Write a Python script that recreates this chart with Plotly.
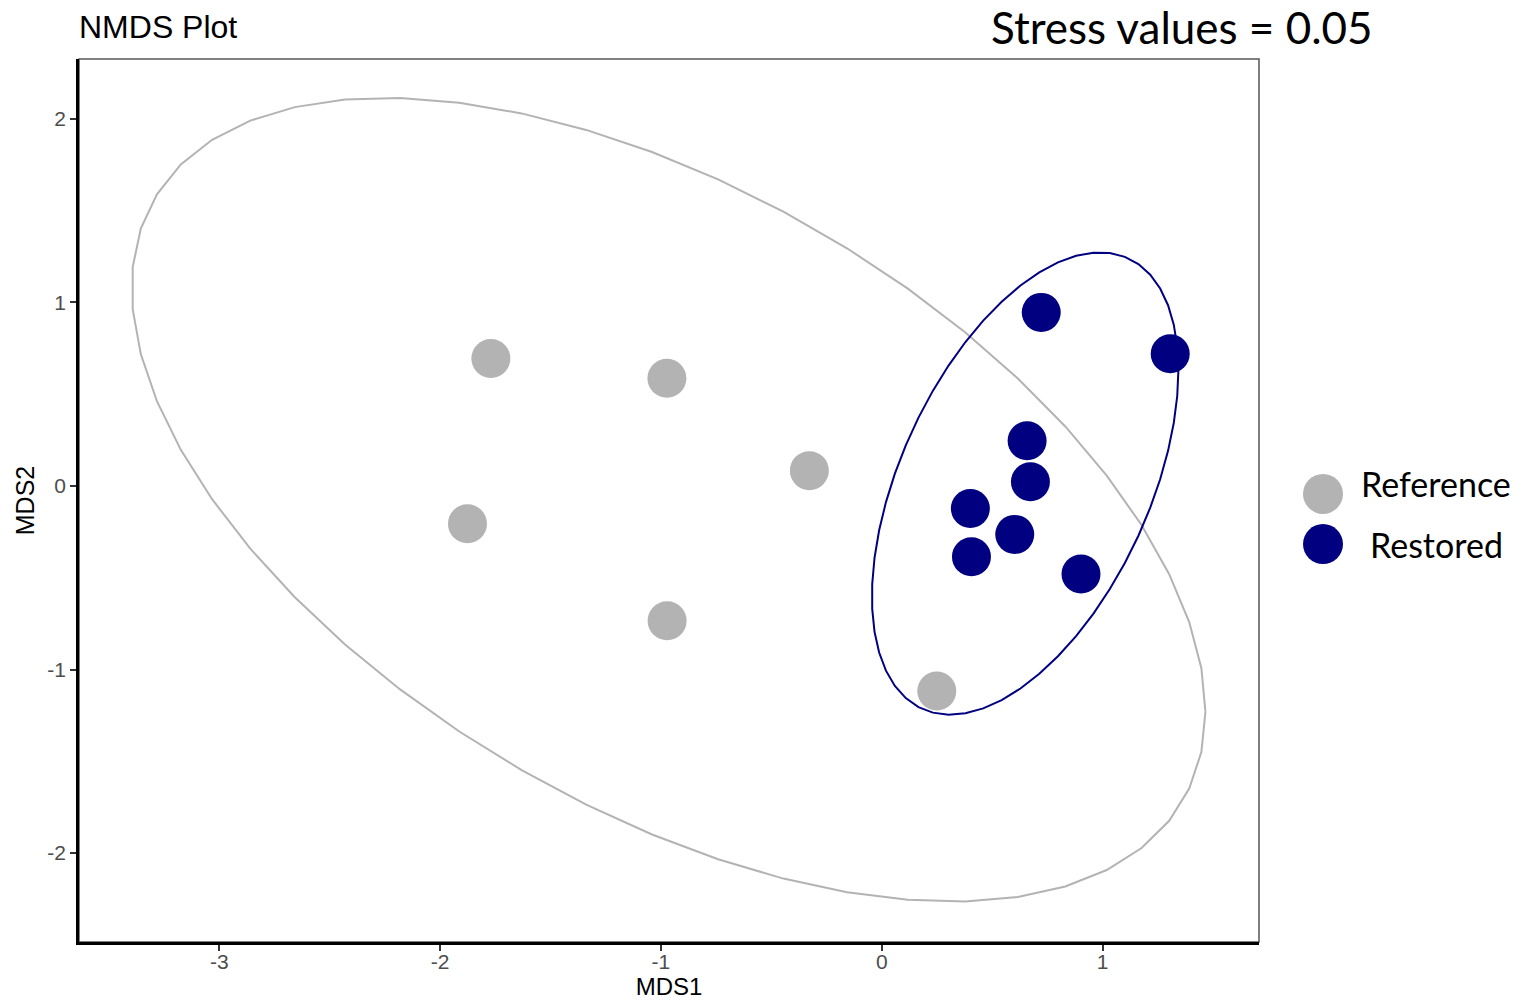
import numpy as np
import plotly.graph_objects as go

# ---- data ----
ref_x = [-1.770, -0.973, -0.328, -1.876, -0.972, 0.249]
ref_y = [0.694, 0.586, 0.083, -0.206, -0.734, -1.117]
res_x = [0.722, 1.306, 0.658, 0.673, 0.401, 0.602, 0.406, 0.902]
res_y = [0.945, 0.720, 0.246, 0.023, -0.123, -0.264, -0.386, -0.480]
groups = ["Reference", "Restored"]
colors = {"Reference": "#B3B3B3", "Restored": "#000080"}
x_ticks = [-3, -2, -1, 0, 1]
y_ticks = [-2, -1, 0, 1, 2]
stress_text = "Stress values = 0.05"


def cov_trob(x, nu=5, maxit=25, tol=0.01):
    x = np.asarray(x, float)
    n, p = x.shape
    wt = np.ones(n)
    loc = x.mean(axis=0)
    w = np.sqrt(wt)
    X = x - loc
    for _ in range(maxit):
        w0 = w.copy()
        X = x - loc
        A = np.sqrt(w / w.sum())[:, None] * X
        _, d, vt = np.linalg.svd(A, full_matrices=False)
        wX = X @ vt.T @ np.diag(1.0 / d)
        Q = (wX ** 2).sum(axis=1)
        w = wt * (nu + p) / (nu + Q)
        loc = (w[:, None] * x).sum(axis=0) / w.sum()
        if np.all(np.abs(w - w0) < tol):
            break
    cov = (np.sqrt(w)[:, None] * X).T @ (np.sqrt(w)[:, None] * X) / wt.sum()
    return loc, cov


def stat_ellipse(xs, ys, level=0.95, segments=51):
    pts = np.column_stack([xs, ys])
    n = len(xs)
    dfn, dfd = 2, n - 1
    center, shape = cov_trob(pts)
    R = np.linalg.cholesky(shape).T
    # F quantile for dfn = 2 (closed form)
    qf = dfd / 2.0 * ((1 - level) ** (-2.0 / dfd) - 1)
    radius = np.sqrt(dfn * qf)
    ang = np.arange(segments + 1) * 2 * np.pi / segments
    circ = np.column_stack([np.cos(ang), np.sin(ang)])
    e = center + radius * (circ @ R)
    return e[:, 0], e[:, 1]


fig = go.Figure()
data = {"Reference": (ref_x, ref_y), "Restored": (res_x, res_y)}
for g in groups:
    ex, ey = stat_ellipse(*data[g])
    fig.add_trace(go.Scatter(x=ex, y=ey, mode="lines",
                             line=dict(color=colors[g], width=2),
                             showlegend=False, hoverinfo="skip"))
for g in groups:
    gx, gy = data[g]
    fig.add_trace(go.Scatter(x=gx, y=gy, mode="markers", name=g,
                             marker=dict(color=colors[g], size=39,
                                         line=dict(width=0)),
                             showlegend=False))

ARIAL = "Liberation Sans, Arial, sans-serif"
axis_font = dict(family=ARIAL, size=21, color="#4D4D4D")
common = dict(showgrid=False, zeroline=False, showline=True, linecolor="black", linewidth=2.5,
              ticks="outside", ticklen=6, tickwidth=1.5, tickcolor="#333333",
              tickfont=axis_font, automargin=False)
fig.update_xaxes(range=[-3.635, 1.708], tickvals=x_ticks, ticktext=[str(t) for t in x_ticks],
                 ticklabelstandoff=-7,
                 title=dict(text="MDS1", font=dict(family=ARIAL, size=24, color="black"),
                            standoff=7), **common)
fig.update_yaxes(range=[-2.484, 2.325], tickvals=y_ticks, ticktext=[str(t) for t in y_ticks],
                 title=dict(text="MDS2", font=dict(family=ARIAL, size=25, color="black"),
                            standoff=6), **common)

shapes = [dict(type="rect", xref="paper", yref="paper", x0=0, x1=1, y0=0, y1=1,
               line=dict(color="#555555", width=1.5), layer="below")]
annotations = [
    dict(text="NMDS Plot", xref="paper", yref="paper", x=0, y=1.0362, xanchor="left",
         yanchor="middle", showarrow=False, xshift=-2,
         font=dict(family=ARIAL, size=32, color="black")),
    dict(text=stress_text, xref="paper", yref="paper", x=0.935, y=1.0362, xanchor="center",
         yanchor="middle", showarrow=False,
         font=dict(family="Lato, Open Sans, sans-serif", size=44, color="black")),
]
leg_marker_y = [0.5074, 0.4507]
leg_text_y = [0.5187, 0.4507]
for g, my, ty in zip(groups, leg_marker_y, leg_text_y):
    shapes.append(dict(type="circle", xref="paper", yref="paper", xsizemode="pixel",
                       ysizemode="pixel", xanchor=(1323 - 79) / 1180, yanchor=my,
                       x0=-20, x1=20, y0=-20, y1=20,
                       fillcolor=colors[g], line=dict(width=0)))
    annotations.append(dict(text=g, xref="paper", yref="paper", x=(1436 - 79) / 1180,
                            y=ty, xanchor="center", yanchor="middle", showarrow=False,
                            font=dict(family="Lato, Open Sans, sans-serif", size=34,
                                      color="black")))

fig.update_layout(width=1524, height=1004,
                  margin=dict(l=79, r=265, t=59, b=62),
                  paper_bgcolor="white", plot_bgcolor="white",
                  shapes=shapes, annotations=annotations, showlegend=False)

fig.write_html("out.html")
